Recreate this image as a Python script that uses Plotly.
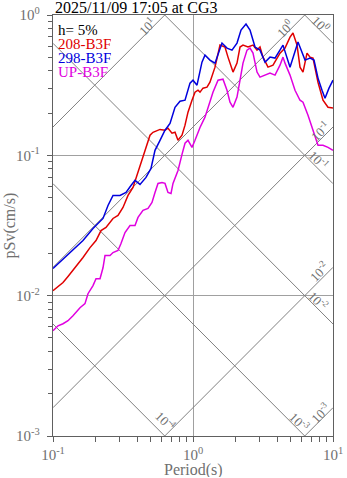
import math
import plotly.graph_objects as go

# ---------------- data ----------------
period_208 = [0.1, 0.1086, 0.1179, 0.128, 0.1389, 0.1508, 0.1638, 0.1838, 0.2029, 0.2203,
              0.2391, 0.2683, 0.2913, 0.3162, 0.3434, 0.3728, 0.4047, 0.4252, 0.4542, 0.4932,
              0.5179, 0.5812, 0.631, 0.6629, 0.7079, 0.7438, 0.7814, 0.8347, 0.877, 0.9211,
              0.9837, 1.0335, 1.0857, 1.122, 1.179, 1.259, 1.322, 1.436, 1.559, 1.692,
              1.778, 1.931, 2.062, 2.167, 2.276, 2.471, 2.683, 2.866, 3.01, 3.162,
              3.434, 3.728, 4.183, 4.542, 4.932, 5.179, 5.534, 5.812, 6.105, 6.522,
              6.851, 7.197, 7.814, 8.483, 9.211, 10.0]
sv_208 = [0.01086, 0.0116, 0.0124, 0.0137, 0.0151, 0.0167, 0.0187, 0.022, 0.0247, 0.0291,
          0.0306, 0.0355, 0.0373, 0.0425, 0.0518, 0.0591, 0.0756, 0.0877, 0.105, 0.139,
          0.146, 0.153, 0.151, 0.156, 0.144, 0.146, 0.128, 0.139, 0.164, 0.203,
          0.247, 0.282, 0.291, 0.282, 0.301, 0.306, 0.332, 0.425, 0.61, 0.591,
          0.501, 0.392, 0.454, 0.591, 0.61, 0.591, 0.61, 0.562, 0.591, 0.501,
          0.425, 0.439, 0.535, 0.581, 0.696, 0.744, 0.61, 0.425, 0.392, 0.535,
          0.501, 0.493, 0.332, 0.247, 0.22, 0.217]

period_298 = [0.1, 0.1179, 0.1389, 0.1638, 0.1931, 0.2276, 0.2471, 0.2683, 0.301, 0.3322,
              0.3607, 0.3853, 0.4183, 0.4617, 0.5012, 0.5353, 0.5812, 0.631, 0.6851, 0.7438,
              0.8076, 0.877, 0.9519, 1.0, 1.068, 1.159, 1.218, 1.322, 1.436, 1.611,
              1.749, 1.899, 2.062, 2.203, 2.391, 2.554, 2.774, 3.01, 3.268, 3.548,
              3.853, 4.183, 4.394, 4.932, 5.623, 6.31, 6.851, 7.316, 7.814, 8.347,
              8.77, 9.363, 10.0]
sv_298 = [0.0156, 0.0181, 0.021, 0.0247, 0.0301, 0.0355, 0.0439, 0.0518, 0.0518, 0.0544,
          0.061, 0.0663, 0.0621, 0.0696, 0.0807, 0.1086, 0.128, 0.151, 0.169, 0.22,
          0.243, 0.247, 0.327, 0.343, 0.316, 0.461, 0.518, 0.477, 0.454, 0.631,
          0.581, 0.562, 0.631, 0.781, 0.862, 0.781, 0.591, 0.562, 0.461, 0.501,
          0.493, 0.562, 0.61, 0.425, 0.641, 0.477, 0.493, 0.477, 0.355, 0.291,
          0.255, 0.301, 0.343]

period_up = [0.1, 0.1086, 0.1179, 0.128, 0.1389, 0.1559, 0.1692, 0.1778, 0.1931, 0.2029,
             0.2167, 0.2276, 0.2352, 0.2554, 0.2683, 0.2913, 0.306, 0.3268, 0.3548, 0.3853,
             0.4047, 0.4394, 0.4772, 0.5095, 0.5353, 0.5623, 0.6007, 0.631, 0.6629, 0.6964,
             0.7197, 0.7814, 0.8347, 0.877, 0.9211, 0.9837, 1.0335, 1.122, 1.218, 1.301,
             1.389, 1.509, 1.638, 1.749, 1.838, 1.931, 2.062, 2.167, 2.276, 2.431,
             2.554, 2.683, 2.866, 3.01, 3.268, 3.548, 3.853, 4.183, 4.394, 4.542,
             4.932, 5.353, 5.812, 6.105, 6.629, 7.079, 7.438, 7.814, 8.483, 9.211, 10.0]
sv_up = [0.00562, 0.0061, 0.00631, 0.00663, 0.0072, 0.00821, 0.00877, 0.01033, 0.0118, 0.0132,
         0.0132, 0.0158, 0.0193, 0.0193, 0.0203, 0.021, 0.0235, 0.0282, 0.0316, 0.0316,
         0.0361, 0.0405, 0.0418, 0.0461, 0.0544, 0.0631, 0.0641, 0.0631, 0.0544, 0.0535,
         0.0631, 0.0781, 0.1016, 0.122, 0.128, 0.114, 0.128, 0.158, 0.187, 0.235,
         0.282, 0.343, 0.349, 0.291, 0.239, 0.22, 0.26, 0.343, 0.454, 0.562,
         0.581, 0.535, 0.392, 0.361, 0.373, 0.385, 0.373, 0.439, 0.501, 0.454,
         0.373, 0.291, 0.247, 0.239, 0.193, 0.158, 0.134, 0.118, 0.118, 0.114, 0.1086]

series_names = ["208-B3F", "298-B3F", "UP-B3F"]
series_colors = ["#e00000", "#0000dd", "#e000e0"]

title_text = "2025/11/09 17:05 at CG3"
damping_text = "h= 5%"

# tripartite reference levels: displacement (cm) and acceleration (cm/s^2)
sd_levels = [1e-4, 1e-3, 1e-2, 1e-1, 1.0]
sa_levels = [1e-3, 1e-2, 1e-1, 1.0, 1e1]
sd_label_text = ["10<sup>-4</sup>", "10<sup>-3</sup>", "10<sup>-2</sup>", "10<sup>-1</sup>", "10<sup>0</sup>"]
sa_label_text = ["10<sup>-3</sup>", "10<sup>-2</sup>", "10<sup>-1</sup>", "10<sup>0</sup>", "10<sup>1</sup>"]
sd_label_pos = [(0.641, 0.00128), (5.81, 0.00126), (7.94, 0.00921), (7.94, 0.0921), (8.21, 0.862)]
sa_label_pos = [(8.08, 0.00146), (7.94, 0.0151), (8.08, 0.148), (4.54, 0.807), (0.469, 0.835)]

x_major = [0.1, 1, 10]
x_major_text = ["10<sup>-1</sup>", "10<sup>0</sup>", "10<sup>1</sup>"]
y_major = [0.001, 0.01, 0.1, 1]
y_major_text = ["10<sup>-3</sup>", "10<sup>-2</sup>", "10<sup>-1</sup>", "10<sup>0</sup>"]
x_minor = [m * d for d in (0.1, 1) for m in range(2, 10)]
y_minor = [m * d for d in (0.001, 0.01, 0.1) for m in range(2, 10)]

# ---------------- figure ----------------
FONT = "Liberation Serif, Times New Roman, serif"
GRAY = "#707070"
fig = go.Figure()

tmin, tmax = 0.1, 10.0
xs, ys = [], []
for sd in sd_levels:
    xs += [tmin, tmax, None]
    ys += [2 * math.pi * sd / tmin, 2 * math.pi * sd / tmax, None]
for sa in sa_levels:
    xs += [tmin, tmax, None]
    ys += [sa * tmin / (2 * math.pi), sa * tmax / (2 * math.pi), None]
fig.add_trace(go.Scatter(x=xs, y=ys, mode="lines", line=dict(color="#808080", width=1),
                         hoverinfo="skip", showlegend=False))

for per, sv, name, col in [(period_up, sv_up, series_names[2], series_colors[2]),
                           (period_208, sv_208, series_names[0], series_colors[0]),
                           (period_298, sv_298, series_names[1], series_colors[1])]:
    fig.add_trace(go.Scatter(x=per, y=sv, mode="lines", name=name,
                             line=dict(color=col, width=1.5), showlegend=False))

annotations = []
for (tx, ty), txt in zip(sd_label_pos, sd_label_text):
    annotations.append(dict(x=math.log10(tx), y=math.log10(ty), xref="x", yref="y", text=txt,
                            showarrow=False, textangle=45, font=dict(family=FONT, size=13, color=GRAY)))
for (tx, ty), txt in zip(sa_label_pos, sa_label_text):
    annotations.append(dict(x=math.log10(tx), y=math.log10(ty), xref="x", yref="y", text=txt,
                            showarrow=False, textangle=-45, font=dict(family=FONT, size=13, color=GRAY)))

annotations.append(dict(x=0, y=1, xref="paper", yref="paper", xanchor="left", yanchor="middle",
                        yshift=8, text=title_text, showarrow=False,
                        font=dict(family=FONT, size=16, color="black")))
legend_items = [(damping_text, "black")] + list(zip(series_names, series_colors))
for i, (txt, col) in enumerate(legend_items):
    annotations.append(dict(x=0, y=1, xref="paper", yref="paper", xanchor="left", yanchor="middle",
                            xshift=3, yshift=-(15 + 14 * i), text=txt, showarrow=False, height=14,
                            font=dict(family=FONT, size=15, color=col)))
annotations.append(dict(x=0.5, y=0, xref="paper", yref="paper", xanchor="center", yanchor="middle",
                        yshift=-33, text="Period(s)", showarrow=False, height=15,
                        font=dict(family=FONT, size=16, color=GRAY)))
annotations.append(dict(x=0, y=0.5, xref="paper", yref="paper", xanchor="center", yanchor="middle",
                        xshift=-44, textangle=-90, text="pSv(cm/s)", showarrow=False,
                        font=dict(family=FONT, size=16, color=GRAY)))

axis_common = dict(type="log", showline=True, linecolor="#606060", linewidth=1.3, mirror=True,
                   ticks="outside", ticklen=5, tickcolor="#606060", tickwidth=1,
                   showgrid=True, gridcolor="#a0a0a0", gridwidth=1.2, zeroline=False,
                   automargin=False,
                   tickfont=dict(family=FONT, size=15, color=GRAY))

fig.update_layout(
    width=347, height=478,
    margin=dict(l=53, r=14, t=15, b=42, autoexpand=False),
    paper_bgcolor="white", plot_bgcolor="white",
    annotations=annotations,
    showlegend=False,
    xaxis=dict(range=[-1, 1], tickmode="array", tickvals=x_major, ticktext=x_major_text,
               minor=dict(tickmode="array", tickvals=x_minor, ticks="outside", ticklen=5,
                          tickcolor="#606060", showgrid=False), **axis_common),
    yaxis=dict(range=[-3, 0], tickmode="array", tickvals=y_major, ticktext=y_major_text,
               ticklabelstandoff=4,
               minor=dict(tickmode="array", tickvals=y_minor, ticks="outside", ticklen=4,
                          tickcolor="#606060", showgrid=False), **axis_common),
)

fig.write_html("out.html")
